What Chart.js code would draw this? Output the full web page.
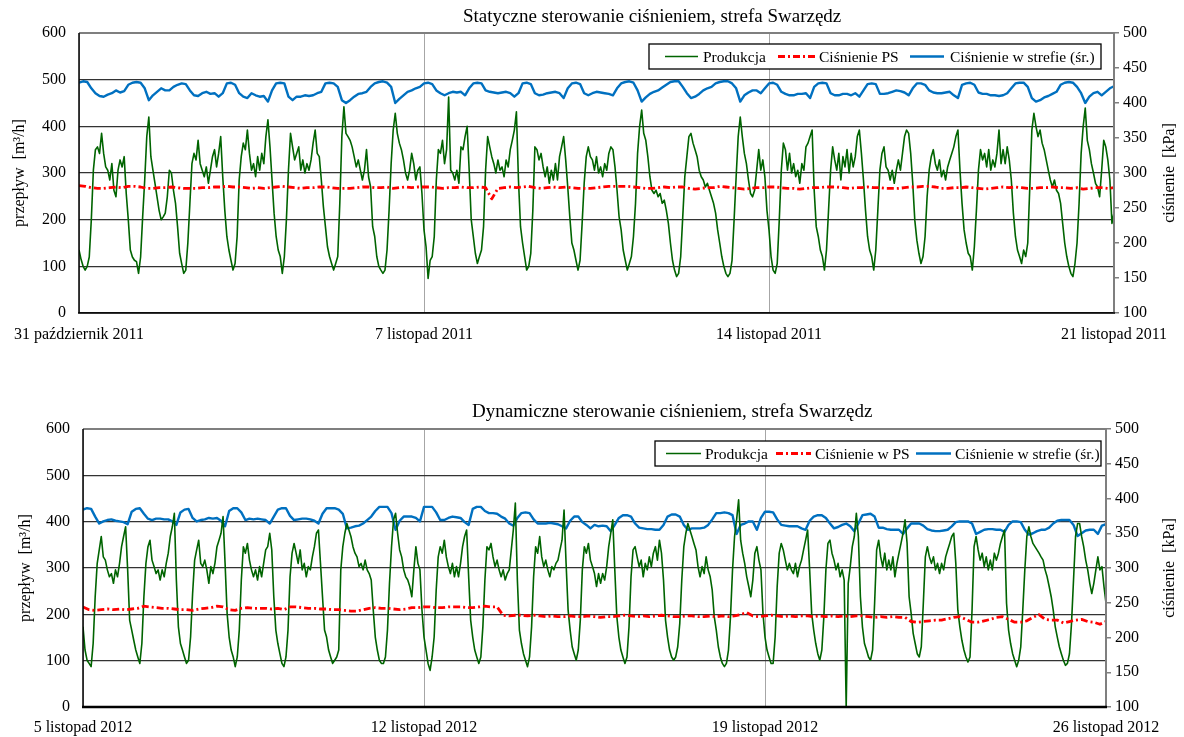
<!DOCTYPE html>
<html>
<head>
<meta charset="utf-8">
<script src="https://cdn.jsdelivr.net/npm/chart.js@4.4.1/dist/chart.umd.min.js"></script>
<style>
  body { margin: 0; background: #fff; width: 1184px; height: 737px; position: relative; overflow: hidden; }
  canvas { position: absolute; left: 0; }
  #staticChart { top: 0; }
  #dynamicChart { top: 395px; }
</style>
</head>
<body>
<canvas id="staticChart" width="1184" height="350"></canvas>
<canvas id="dynamicChart" width="1184" height="342"></canvas>
<script>
// sampling of the series, in hours
const PROD_STEP = 1;
const ZONE_STEP = 2;
const PS_STEP = 3;
const DAYS = 21;

// ---- Statyczne sterowanie, 31.10 - 21.11.2011 ----
const xLabelsStatic = ['31 październik 2011', '7 listopad 2011', '14 listopad 2011', '21 listopad 2011'];
const namesStatic = ['Produkcja', 'Ciśnienie PS', 'Ciśnienie w strefie (śr.)'];

// przepływ [m3/h], co godzinę
const prodStatic = [
  135,115,100,92,100,120,200,306,350,356,342,385,342,313,306,285,320,263,249,306,328,313,335,256,
  200,135,120,113,110,85,120,206,285,378,420,335,306,278,249,220,200,206,214,249,306,300,263,235,
  185,128,106,85,92,150,235,320,342,328,370,320,306,292,313,278,306,335,350,313,342,378,292,220,
  164,135,113,92,106,164,285,335,364,350,392,342,306,320,292,335,306,342,320,378,414,356,285,214,
  164,135,121,85,121,200,306,385,356,328,342,356,306,328,300,320,306,328,364,392,342,335,285,228,
  185,142,121,106,92,106,121,235,378,442,385,378,370,356,335,313,328,306,285,306,350,292,270,185,
  164,121,100,92,85,92,135,220,320,392,428,385,364,350,328,300,285,306,342,320,285,306,313,256,
  178,142,74,113,121,164,285,350,342,370,320,350,463,306,300,285,306,278,356,350,378,400,306,200,
  164,128,106,121,135,185,306,378,356,335,320,300,328,306,313,292,328,313,350,370,392,431,285,185,
  150,121,92,100,128,220,356,350,328,342,313,292,313,278,306,285,320,285,335,356,378,328,270,206,
  150,135,113,92,113,192,278,335,356,335,328,306,335,300,313,292,320,306,342,356,350,313,263,206,
  178,135,113,92,106,121,164,235,342,400,435,385,370,335,292,263,256,263,249,256,235,242,220,192,
  150,113,92,78,85,121,206,292,335,378,385,364,350,335,306,292,285,270,278,263,249,235,214,178,
  150,121,100,85,78,85,113,199,292,378,420,378,342,320,285,256,249,263,306,350,306,328,292,220,
  178,121,92,85,106,199,306,364,350,306,342,300,320,292,306,278,320,306,356,364,378,392,263,185,
  164,135,121,92,135,220,306,356,328,306,342,285,335,313,350,300,342,313,335,378,392,342,285,220,
  164,135,121,92,135,220,306,342,356,313,306,285,306,278,306,328,306,342,378,392,385,342,278,199,
  156,128,106,121,164,249,306,335,350,320,306,328,292,306,285,313,328,342,356,378,392,306,235,178,
  150,128,121,92,142,220,306,350,328,342,313,350,306,328,313,342,392,320,350,320,356,328,285,214,
  164,135,121,106,135,121,150,270,392,428,400,378,392,364,350,328,306,285,270,285,263,256,235,192,
  150,121,100,85,78,106,150,235,342,400,439,370,350,320,300,278,270,249,306,370,356,328,285,192,
  215
];

// ciśnienie PS [kPa], co 3 godziny
const psStatic = [
  282,281,279,278,278,279,280,279,  281,281,280,278,278,279,279,280,  279,278,278,278,279,279,280,280,
  281,280,280,279,278,279,278,279,  280,281,280,279,278,279,279,280,  280,279,278,278,278,279,280,280,
  279,279,280,278,279,280,279,280,  280,280,279,278,279,279,280,279,  279,280,279,263,278,279,280,279,
  280,281,279,278,279,280,279,280,  279,278,278,278,279,280,281,281,  281,281,280,279,278,278,279,280,
  279,280,280,278,277,278,279,279,  281,280,279,278,277,278,279,279,  280,280,279,278,278,277,278,279,
  279,280,280,280,279,278,279,279,  280,279,279,278,278,278,279,280,  280,281,281,280,278,278,279,279,
  280,279,278,277,278,279,280,279,  280,279,278,278,279,279,280,279,  279,278,279,277,278,279,279,278,
  279
];

// ciśnienie w strefie [kPa], co 2 godziny
const zoneStatic = [
  429,431,430,421,414,410,409,412,414,418,415,417,
  426,429,430,429,421,404,411,416,421,418,418,423,
  426,428,427,418,411,410,414,416,413,414,409,414,
  428,429,426,414,409,407,414,411,409,410,402,418,
  428,429,428,409,404,409,409,411,410,411,414,416,
  428,429,428,423,404,400,404,409,413,414,416,423,
  428,430,431,429,423,400,406,411,416,418,421,423,
  428,429,427,418,414,411,414,416,415,416,411,421,
  428,429,428,418,416,415,414,415,416,414,409,414,
  428,429,427,414,411,412,414,415,416,414,407,421,
  428,429,427,414,411,414,416,415,414,413,411,421,
  428,430,431,429,418,402,408,413,416,418,422,426,
  430,431,431,423,414,407,409,413,418,421,423,428,
  430,431,431,428,421,402,411,415,418,418,414,421,
  428,429,426,416,413,411,411,413,413,414,407,423,
  428,429,428,414,411,411,413,413,411,414,409,418,
  427,428,427,413,413,414,416,418,417,415,411,421,
  428,428,426,418,415,414,414,415,416,411,407,426,
  428,429,426,415,413,413,411,411,410,411,414,421,
  428,429,429,423,407,402,404,408,410,413,416,426,
  429,430,429,423,414,400,409,414,416,411,416,421,
  424
];

// ---- Dynamiczne sterowanie, 5.11 - 26.11.2012 ----
const xLabelsDynamic = ['5 listopad 2012', '12 listopad 2012', '19 listopad 2012', '26 listopad 2012'];
const namesDynamic = ['Produkcja', 'Ciśnienie w PS', 'Ciśnienie w strefie (śr.)'];

const prodDynamic = [
  173,123,101,94,87,137,238,310,339,368,324,317,296,281,288,267,296,281,310,346,368,389,296,187,
  166,144,123,108,94,137,238,310,346,360,317,303,288,296,274,296,281,310,332,368,389,418,274,173,
  137,123,108,94,101,151,245,317,339,360,310,303,317,296,267,303,288,310,346,360,375,411,310,202,
  151,123,108,87,108,166,274,346,332,353,317,296,281,296,274,303,281,310,339,346,375,339,238,166,
  137,115,94,87,108,166,281,332,353,332,310,339,296,310,281,303,296,324,346,375,382,310,238,166,
  151,123,108,94,101,108,123,296,346,375,396,382,368,346,332,324,303,310,296,317,296,288,274,209,
  151,123,101,94,94,108,166,267,346,404,418,375,339,324,296,281,274,260,238,296,346,310,296,209,
  151,123,94,79,108,151,252,324,346,332,360,324,303,288,310,281,303,281,310,346,368,382,281,187,
  151,123,108,94,108,173,274,346,339,353,324,303,317,296,281,296,274,288,296,339,382,440,274,166,
  137,115,101,87,108,173,281,346,332,368,324,303,317,296,281,303,296,310,317,339,360,425,310,209,
  166,130,115,101,123,187,296,346,332,353,317,303,288,260,288,267,288,274,303,346,375,404,296,195,
  151,123,108,94,108,173,281,339,346,324,303,317,281,310,296,324,303,332,346,317,360,332,274,187,
  151,123,108,101,108,130,180,274,346,375,396,382,368,353,339,303,281,303,288,324,296,281,252,195,
  166,130,108,94,87,94,123,195,296,368,404,447,360,332,310,281,260,238,274,332,346,317,296,202,
  151,123,108,94,94,151,260,332,353,339,317,296,310,296,288,310,281,303,317,339,360,382,296,202,
  166,137,115,101,123,195,296,353,360,332,317,296,310,281,296,274,0,267,303,346,368,418,368,238,
  173,137,123,108,101,123,224,339,360,324,303,332,296,317,296,324,281,310,332,353,375,404,353,238,
  202,159,137,115,108,130,224,324,346,324,310,324,296,310,288,310,296,324,339,353,368,375,310,209,
  173,144,123,108,97,108,209,346,368,339,317,332,303,324,296,317,296,332,317,332,353,368,382,224,
  166,137,115,101,87,101,130,209,296,368,389,368,353,346,339,332,324,317,296,281,260,238,209,173,
  151,130,115,101,90,94,115,180,274,368,396,396,368,346,317,296,267,245,267,296,324,296,303,260,
  224
];

const psDynamic = [
  244,240,239,240,241,240,241,240,  241,242,245,244,243,242,242,241,  240,240,239,241,242,243,245,244,
  240,239,242,243,242,242,242,241,  242,240,244,244,243,242,242,241,  241,240,240,239,238,238,240,242,
  243,242,242,241,240,241,243,243,  244,244,243,243,244,244,244,243,  243,244,245,244,244,232,231,232,
  232,231,232,231,230,231,230,230,  231,230,230,231,230,229,230,230,  231,232,231,230,231,230,231,232,
  231,230,230,231,231,230,230,231,  230,231,230,231,233,236,231,230,  231,232,231,230,231,230,231,231,
  230,231,230,231,230,231,230,231,  231,230,229,230,229,230,229,229,  223,222,223,224,225,225,227,229,
  230,226,222,222,224,226,229,230,  226,222,222,224,229,233,226,225,  225,221,223,225,226,223,222,219,
  223
];

const zoneDynamic = [
  384,386,385,374,364,367,369,370,368,367,366,363,
  381,385,386,378,371,369,371,371,370,370,367,362,
  380,384,385,372,367,369,370,372,371,372,368,360,
  382,386,386,380,369,371,370,371,370,369,364,374,
  384,386,386,375,369,370,371,371,370,368,364,378,
  386,386,386,384,378,357,358,360,361,364,369,374,
  382,388,388,388,379,355,368,374,374,374,372,367,
  388,388,388,380,369,369,372,374,373,372,366,362,
  385,388,388,382,379,379,378,374,371,364,361,372,
  379,380,379,370,364,364,364,365,364,363,360,357,
  368,374,374,366,362,357,362,360,361,360,353,362,
  372,376,376,374,364,358,357,356,356,355,355,362,
  374,377,377,374,362,355,357,357,357,358,362,370,
  379,379,380,379,376,349,362,364,367,367,355,372,
  381,381,380,370,362,361,360,360,360,357,355,368,
  374,376,376,372,364,357,359,362,364,360,353,364,
  376,377,378,374,358,358,356,355,355,355,349,357,
  364,364,364,361,356,354,353,353,354,355,360,366,
  367,367,367,364,349,352,355,356,356,355,355,352,
  362,367,367,366,355,348,350,353,355,355,358,364,
  368,369,369,369,362,346,350,354,355,355,349,361,
  363
];

const FONT = '"Liberation Serif", "Times New Roman", serif';
Chart.defaults.font.family = FONT;
Chart.defaults.font.size = 16;
Chart.defaults.color = '#000';

function pts(values, step) {
  return values.map((v, i) => ({ x: i * step, y: v }));
}

// ramka obszaru wykresu
const frame = {
  id: 'frame',
  afterDatasetsDraw(chart, args, o) {
    const { left, right, top, bottom } = chart.chartArea;
    const ctx = chart.ctx;
    const line = (x0, y0, x1, y1, c, w) => {
      ctx.beginPath(); ctx.strokeStyle = c; ctx.lineWidth = w;
      ctx.moveTo(x0, y0); ctx.lineTo(x1, y1); ctx.stroke();
    };
    ctx.save();
    line(left, top, right, top, '#7f7f7f', 2);
    line(right, top, right, bottom, '#7f7f7f', 2);
    line(left, top, left, bottom, '#000', 1.5);
    line(left - 1, bottom, right + 1, bottom, '#000', o.bottomWidth);
    ctx.restore();
  }
};

// tytuł i opisy osi
const texts = {
  id: 'texts',
  afterDraw(chart, args, o) {
    const ctx = chart.ctx;
    const { top, bottom } = chart.chartArea;
    const mid = (top + bottom) / 2;
    ctx.save();
    ctx.fillStyle = '#000';
    ctx.textBaseline = 'middle';
    ctx.font = o.titleSize + 'px ' + FONT;
    ctx.textAlign = 'left';
    ctx.fillText(o.title, o.titleX, o.titleY);
    ctx.font = '16px ' + FONT;
    ctx.textAlign = 'center';
    [[o.leftX, o.leftTitle], [o.rightX, o.rightTitle]].forEach(([x, t]) => {
      ctx.save();
      ctx.translate(x, mid);
      ctx.rotate(-Math.PI / 2);
      ctx.fillText(t, 0, 0);
      ctx.restore();
    });
    ctx.restore();
  }
};

// legenda w ramce
const boxLegend = {
  id: 'boxLegend',
  afterDraw(chart, args, o) {
    const ctx = chart.ctx;
    const cy = o.y + o.h / 2;
    ctx.save();
    ctx.fillStyle = '#fff';
    ctx.fillRect(o.x, o.y, o.w, o.h);
    ctx.strokeStyle = '#000';
    ctx.lineWidth = 1.3;
    ctx.strokeRect(o.x, o.y, o.w, o.h);
    ctx.font = '15.5px ' + FONT;
    ctx.textBaseline = 'middle';
    ctx.textAlign = 'left';
    o.items.forEach(it => {
      const ds = chart.data.datasets[it.ds];
      ctx.beginPath();
      ctx.strokeStyle = ds.borderColor;
      ctx.lineWidth = ds.borderWidth;
      ctx.setLineDash(ds.borderDash || []);
      ctx.moveTo(it.x0, cy);
      ctx.lineTo(it.x1, cy);
      ctx.stroke();
      ctx.setLineDash([]);
      ctx.fillStyle = '#000';
      ctx.fillText(ds.label, it.tx, cy + 1);
    });
    ctx.restore();
  }
};

function makeChart(id, d) {
  return new Chart(document.getElementById(id), {
    type: 'line',
    data: {
      datasets: [
        { label: d.names[1], data: pts(d.ps, PS_STEP), yAxisID: 'y1',
          borderColor: '#ff0000', borderWidth: 2.8, borderDash: [7, 3, 2, 3], order: 0 },
        { label: d.names[0], data: pts(d.prod, PROD_STEP), yAxisID: 'y',
          borderColor: '#006400', borderWidth: 1.6, order: 1 },
        { label: d.names[2], data: pts(d.zone, ZONE_STEP), yAxisID: 'y1',
          borderColor: '#0070c0', borderWidth: 2.4, order: 2 }
      ]
    },
    options: {
      responsive: false,
      animation: false,
      devicePixelRatio: 1,
      layout: { padding: { top: d.padTop, left: 0, right: 0, bottom: 0 } },
      elements: { point: { radius: 0 }, line: { tension: 0, borderJoinStyle: 'round' } },
      plugins: {
        legend: { display: false },
        tooltip: { enabled: false },
        title: { display: false },
        frame: { bottomWidth: d.bottomWidth },
        texts: d.texts,
        boxLegend: d.legend
      },
      scales: {
        x: {
          type: 'linear', min: 0, max: DAYS * 24,
          afterFit: s => { s.height = d.xHeight; },
          border: { display: false },
          grid: { color: '#a6a6a6', lineWidth: 1, drawTicks: false },
          ticks: {
            stepSize: 168, autoSkip: false, maxRotation: 0, padding: d.xPad,
            callback: v => d.xLabels[Math.round(v / 168)]
          }
        },
        y: {
          position: 'left', min: 0, max: 600,
          afterFit: s => { s.width = d.leftW; },
          border: { display: false },
          grid: { color: '#333', lineWidth: 1.2, drawTicks: false },
          ticks: { stepSize: 100, padding: 13 }
        },
        y1: {
          position: 'right', min: 100, max: 500,
          afterFit: s => { s.width = d.rightW; },
          border: { display: false },
          grid: { drawOnChartArea: false, drawTicks: true, tickLength: 5, tickColor: '#7f7f7f', lineWidth: 1.5 },
          ticks: { stepSize: 50, padding: 4 }
        }
      }
    },
    plugins: [frame, texts, boxLegend]
  });
}

makeChart('staticChart', {
  names: namesStatic, prod: prodStatic, ps: psStatic, zone: zoneStatic, xLabels: xLabelsStatic,
  padTop: 33, xHeight: 37, xPad: 12, leftW: 79, rightW: 70, bottomWidth: 1.5,
  texts: { title: 'Statyczne sterowanie ciśnieniem, strefa Swarzędz', titleSize: 19, titleX: 463, titleY: 17,
           leftTitle: 'przepływ  [m³/h]', rightTitle: 'ciśnienie  [kPa]', leftX: 20, rightX: 1170 },
  legend: { x: 649, y: 44, w: 452, h: 25, items: [
    { ds: 1, x0: 665, x1: 698, tx: 703 },
    { ds: 0, x0: 778, x1: 815, tx: 819 },
    { ds: 2, x0: 910, x1: 944, tx: 950 }
  ] }
});

makeChart('dynamicChart', {
  names: namesDynamic, prod: prodDynamic, ps: psDynamic, zone: zoneDynamic, xLabels: xLabelsDynamic,
  padTop: 34, xHeight: 30, xPad: 11, leftW: 83, rightW: 78, bottomWidth: 2.5,
  texts: { title: 'Dynamiczne sterowanie ciśnieniem, strefa Swarzędz', titleSize: 19, titleX: 472, titleY: 17,
           leftTitle: 'przepływ  [m³/h]', rightTitle: 'ciśnienie  [kPa]', leftX: 26, rightX: 1170 },
  legend: { x: 655, y: 46, w: 446, h: 25, items: [
    { ds: 1, x0: 666, x1: 701, tx: 705 },
    { ds: 0, x0: 776, x1: 811, tx: 815 },
    { ds: 2, x0: 916, x1: 951, tx: 955 }
  ] }
});
</script>
</body>
</html>
